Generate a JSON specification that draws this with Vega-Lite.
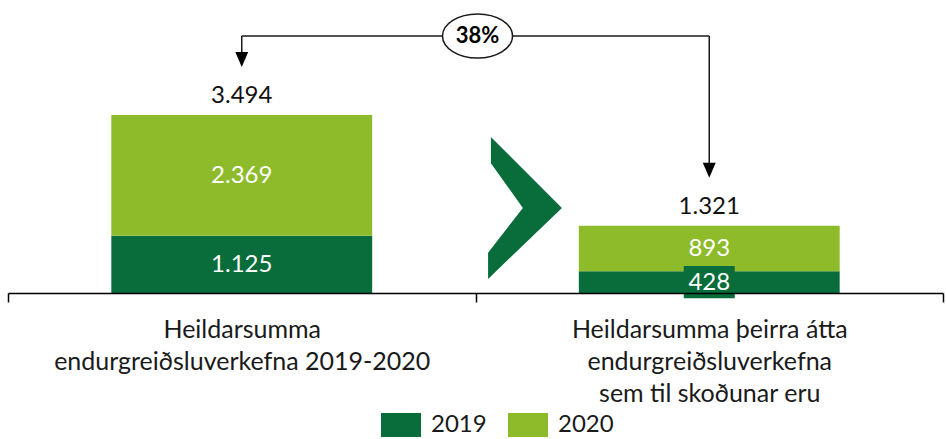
{
  "$schema": "https://vega.github.io/schema/vega-lite/v6.json",
  "width": 935,
  "height": 293,
  "autosize": "none",
  "padding": {"left": 8, "top": 0, "right": 3, "bottom": 146},
  "config": {
    "view": {"stroke": null},
    "font": "Lato",
    "locale": {"number": {"decimal": ",", "thousands": ".", "grouping": [3], "currency": ["", ""]}}
  },
  "data": {"values": [
    {"cat": "Heildarsumma|endurgreiðsluverkefna 2019-2020", "ar": "2019", "value": 1125},
    {"cat": "Heildarsumma|endurgreiðsluverkefna 2019-2020", "ar": "2020", "value": 2369},
    {"cat": "Heildarsumma þeirra átta|endurgreiðsluverkefna|sem til skoðunar eru", "ar": "2019", "value": 428},
    {"cat": "Heildarsumma þeirra átta|endurgreiðsluverkefna|sem til skoðunar eru", "ar": "2020", "value": 893}
  ]},
  "encoding": {
    "x": {
      "field": "cat", "type": "nominal", "sort": null,
      "scale": {"paddingInner": 0, "paddingOuter": 0},
      "axis": {
        "title": null, "labelAngle": 0, "labelExpr": "split(datum.label, '|')",
        "labelFontSize": 25, "labelLineHeight": 32, "labelColor": "#1a1a1a",
        "labelPadding": 15, "labelLimit": 600, "labelOverlap": false, "labelBound": false, "labelFlush": false,
        "tickBand": "extent", "tickSize": 9, "tickColor": "#000", "tickWidth": 1.5,
        "domainColor": "#000", "domainWidth": 1.5, "zindex": 1
      }
    }
  },
  "layer": [
    {
      "mark": {"type": "bar", "width": {"band": 0.558}},
      "encoding": {
        "y": {"field": "value", "type": "quantitative", "stack": "zero", "scale": {"domain": [0, 5751], "nice": false}, "axis": null},
        "color": {
          "field": "ar", "type": "nominal",
          "scale": {"domain": ["2019", "2020"], "range": ["#086c3b", "#8dbb2a"]},
          "legend": {
            "orient": "none", "legendX": 373, "legendY": 405, "direction": "horizontal", "title": null,
            "symbolType": "M -1 -0.6 L 1 -0.6 L 1 0.6 L -1 0.6 Z", "symbolSize": 1600,
            "symbolStrokeWidth": 0, "symbolOpacity": 1,
            "labelFontSize": 24, "labelColor": "#1a1a1a", "labelOffset": 10, "columnPadding": 21
          }
        },
        "order": {"field": "ar", "sort": "ascending"}
      }
    },
    {
      "transform": [{"filter": "datum.value == 428"}],
      "mark": {"type": "point", "shape": "M -1 -0.63 L 1 -0.63 L 1 0.63 L -1 0.63 Z", "size": 2601, "filled": true, "color": "#086c3b", "opacity": 1, "strokeWidth": 0},
      "encoding": {
        "y": {"field": "value", "type": "quantitative", "stack": "zero", "bandPosition": 0.5, "scale": {"domain": [0, 5751], "nice": false}}
      }
    },
    {
      "mark": {"type": "text", "color": "white", "fontSize": 24, "baseline": "middle", "dy": 1},
      "encoding": {
        "y": {"field": "value", "type": "quantitative", "stack": "zero", "bandPosition": 0.5, "scale": {"domain": [0, 5751], "nice": false}},
        "detail": {"field": "ar"},
        "order": {"field": "ar", "sort": "ascending"},
        "text": {"field": "value", "type": "quantitative", "format": ","}
      }
    },
    {
      "transform": [{"aggregate": [{"op": "sum", "field": "value", "as": "total"}], "groupby": ["cat"]}],
      "mark": {"type": "text", "color": "#111", "fontSize": 24, "baseline": "middle", "dy": -19},
      "encoding": {
        "y": {"field": "total", "type": "quantitative", "scale": {"domain": [0, 5751], "nice": false}},
        "text": {"field": "total", "type": "quantitative", "format": ","}
      }
    },
    {
      "transform": [{"aggregate": [{"op": "sum", "field": "value", "as": "total"}], "groupby": ["cat"]}],
      "mark": {"type": "rule", "color": "#1a1a1a", "strokeWidth": 1.5, "yOffset": -52},
      "encoding": {
        "y": {"field": "total", "type": "quantitative", "scale": {"domain": [0, 5751], "nice": false}},
        "y2": {"datum": 5045}
      }
    },
    {
      "transform": [{"aggregate": [{"op": "sum", "field": "value", "as": "total"}], "groupby": ["cat"]}],
      "mark": {"type": "point", "shape": "M -0.43 -1 L 0.43 -1 L 0 0 Z", "size": 900, "filled": true, "color": "#000", "opacity": 1, "yOffset": -48, "strokeWidth": 0},
      "encoding": {
        "y": {"field": "total", "type": "quantitative", "scale": {"domain": [0, 5751], "nice": false}}
      }
    },
    {
      "data": {"values": [{}]},
      "mark": {"type": "rule", "color": "#1a1a1a", "strokeWidth": 1.5},
      "encoding": {
        "x": {"datum": "Heildarsumma|endurgreiðsluverkefna 2019-2020", "type": "nominal"},
        "x2": {"datum": "Heildarsumma þeirra átta|endurgreiðsluverkefna|sem til skoðunar eru"},
        "y": {"datum": 5045, "type": "quantitative", "scale": {"domain": [0, 5751], "nice": false}}
      }
    },
    {
      "data": {"values": [{}]},
      "mark": {"type": "point", "shape": "M -1 0 A 1 0.63 0 1 0 1 0 A 1 0.63 0 1 0 -1 0 Z", "size": 4900, "fill": "white", "stroke": "#1a1a1a", "strokeWidth": 1.5, "opacity": 1, "fillOpacity": 1, "xOffset": 2},
      "encoding": {
        "x": {"datum": "Heildarsumma|endurgreiðsluverkefna 2019-2020", "type": "nominal", "bandPosition": 1},
        "y": {"datum": 5045, "type": "quantitative", "scale": {"domain": [0, 5751], "nice": false}}
      }
    },
    {
      "data": {"values": [{}]},
      "mark": {"type": "text", "text": "38%", "fontSize": 22, "fontWeight": "bold", "color": "#000", "baseline": "middle", "xOffset": 2},
      "encoding": {
        "x": {"datum": "Heildarsumma|endurgreiðsluverkefna 2019-2020", "type": "nominal", "bandPosition": 1},
        "y": {"datum": 5045, "type": "quantitative", "scale": {"domain": [0, 5751], "nice": false}}
      }
    },
    {
      "data": {"values": [{}]},
      "mark": {"type": "point", "shape": "M -0.48 -1 L 0.52 0 L -0.52 1 L -0.52 0.63 L -0.03 0 L -0.48 -0.63 Z", "size": 20164, "filled": true, "color": "#086c3b", "opacity": 1, "strokeWidth": 0, "xOffset": 49.5},
      "encoding": {
        "x": {"datum": "Heildarsumma|endurgreiðsluverkefna 2019-2020", "type": "nominal", "bandPosition": 1},
        "y": {"datum": 1670, "type": "quantitative", "scale": {"domain": [0, 5751], "nice": false}}
      }
    }
  ]
}
